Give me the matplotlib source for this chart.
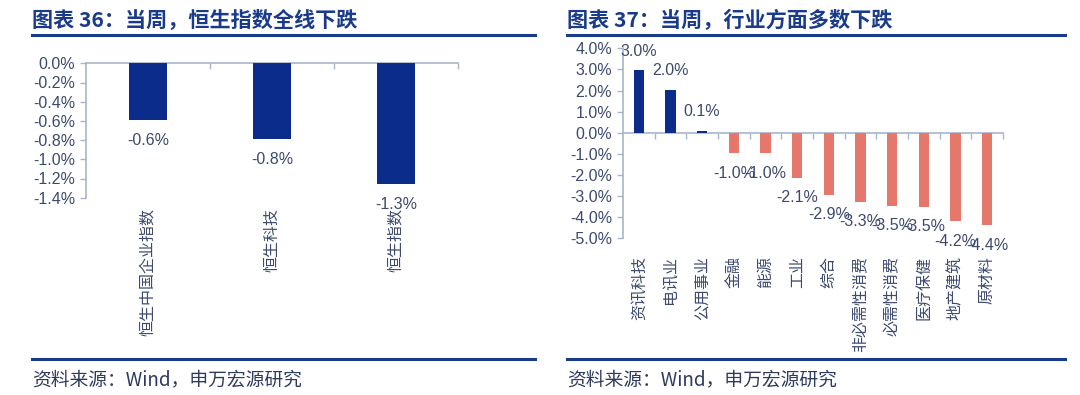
import matplotlib
matplotlib.use("Agg")
import matplotlib.pyplot as plt
from matplotlib.lines import Line2D
from matplotlib.ticker import FixedLocator, FuncFormatter
import numpy as np

# data
hsi_names = ["恒生中国企业指数", "恒生科技", "恒生指数"]
hsi_chg = [-0.59, -0.79, -1.26]

sector_names = ["资讯科技", "电讯业", "公用事业", "金融", "能源", "工业", "综合",
                "非必需性消费", "必需性消费", "医疗保健", "地产建筑", "原材料"]
sector_chg = [2.95, 2.01, 0.10, -0.96, -0.98, -2.12, -2.93, -3.26, -3.46, -3.50, -4.19, -4.38]

left_ticks = [0.0, -0.2, -0.4, -0.6, -0.8, -1.0, -1.2, -1.4]
right_ticks = [4.0, 3.0, 2.0, 1.0, 0.0, -1.0, -2.0, -3.0, -4.0, -5.0]

titles = ["图表 36：当周，恒生指数全线下跌", "图表 37：当周，行业方面多数下跌"]
source = "资料来源：Wind，申万宏源研究"

NAVY = "#1a3a8a"
BLUE = "#0c2c8c"
RED = "#e5776b"
AXIS = "#a9b5cc"
TXT = "#3d4a6e"
NUM_FONT = ["Liberation Sans", "Noto Sans CJK SC"]
CJK_FONT = ["Noto Sans CJK SC", "DejaVu Sans"]

plt.rcParams["font.family"] = NUM_FONT

W, H = 1080, 395
fig = plt.figure(figsize=(W / 100, H / 100), dpi=100)


def px_axes(x0, y0, x1, y1):
    return fig.add_axes([x0 / W, 1 - y1 / H, (x1 - x0) / W, (y1 - y0) / H])


def style_axes(ax, ticks, n):
    for s in ["top", "right"]:
        ax.spines[s].set_visible(False)
    ax.spines["left"].set_color(AXIS)
    ax.spines["bottom"].set_color(AXIS)
    ax.spines["left"].set_linewidth(1.2)
    ax.spines["bottom"].set_linewidth(1.2)
    ax.spines["bottom"].set_position(("data", 0))
    ax.spines["bottom"].set_zorder(1)
    ax.set_xlim(-0.5, n - 0.5)
    ax.set_ylim(min(ticks), max(ticks))
    ax.set_yticks(ticks)
    ax.yaxis.set_major_formatter(FuncFormatter(lambda v, p: f"{v:.1f}%"))
    ax.tick_params(axis="y", direction="out", length=4, width=1, color=AXIS,
                   labelsize=11.5, labelcolor=TXT, pad=4)
    ax.set_xticks([])
    ax.xaxis.set_minor_locator(FixedLocator(np.arange(0.5, n, 1.0)))
    ax.tick_params(axis="x", which="minor", direction="out", length=4, width=1,
                   color=AXIS, labelbottom=False)
    ax.patch.set_visible(False)


def bar_labels(ax, vals):
    for i, v in enumerate(vals):
        off = 14 if v >= 0 else -14.5
        ax.annotate(f"{v:.1f}%", (i, v), xytext=(0, off), textcoords="offset points",
                    ha="center", va="center", fontsize=11.5, color=TXT,
                    annotation_clip=False)


def cat_labels(ax, names, gap_px):
    ax_h = ax.get_position().height * H
    for i, name in enumerate(names):
        ax.text(i, -gap_px / ax_h, name, transform=ax.get_xaxis_transform(),
                rotation=90, ha="center", va="top", fontsize=11.5, color=TXT,
                family=CJK_FONT)


# left panel
ax1 = px_axes(86, 63.3, 458, 197.7)
style_axes(ax1, left_ticks, len(hsi_names))
ax1.bar(range(len(hsi_chg)), hsi_chg, width=0.31, color=BLUE, zorder=2)
bar_labels(ax1, hsi_chg)
cat_labels(ax1, hsi_names, 10)

# right panel
ax2 = px_axes(623, 48.3, 1003, 238.3)
style_axes(ax2, right_ticks, len(sector_names))
colors = [BLUE if v >= 0 else RED for v in sector_chg]
ax2.bar(range(len(sector_chg)), sector_chg, width=0.32, color=colors, zorder=2)
bar_labels(ax2, sector_chg)
cat_labels(ax2, sector_names, 18)

# titles, rules and source notes
for x0, x1, title in [(32, 535, titles[0]), (567, 1065, titles[1])]:
    fig.text(x0 / W, 1 - 20 / H, title, ha="left", va="center", fontsize=15.2,
             fontweight="bold", color=NAVY, family=CJK_FONT)
    fig.add_artist(Line2D([x0 / W, x1 / W], [1 - 35 / H] * 2, color=NAVY, lw=2.2))
    fig.add_artist(Line2D([x0 / W, x1 / W], [1 - 359 / H] * 2, color=NAVY, lw=2.2))
    fig.text(x0 / W, 1 - 380 / H, source, ha="left", va="center", fontsize=13.5,
             color="#2e3a5e", family=CJK_FONT)

fig.savefig("out.png", dpi=100)
